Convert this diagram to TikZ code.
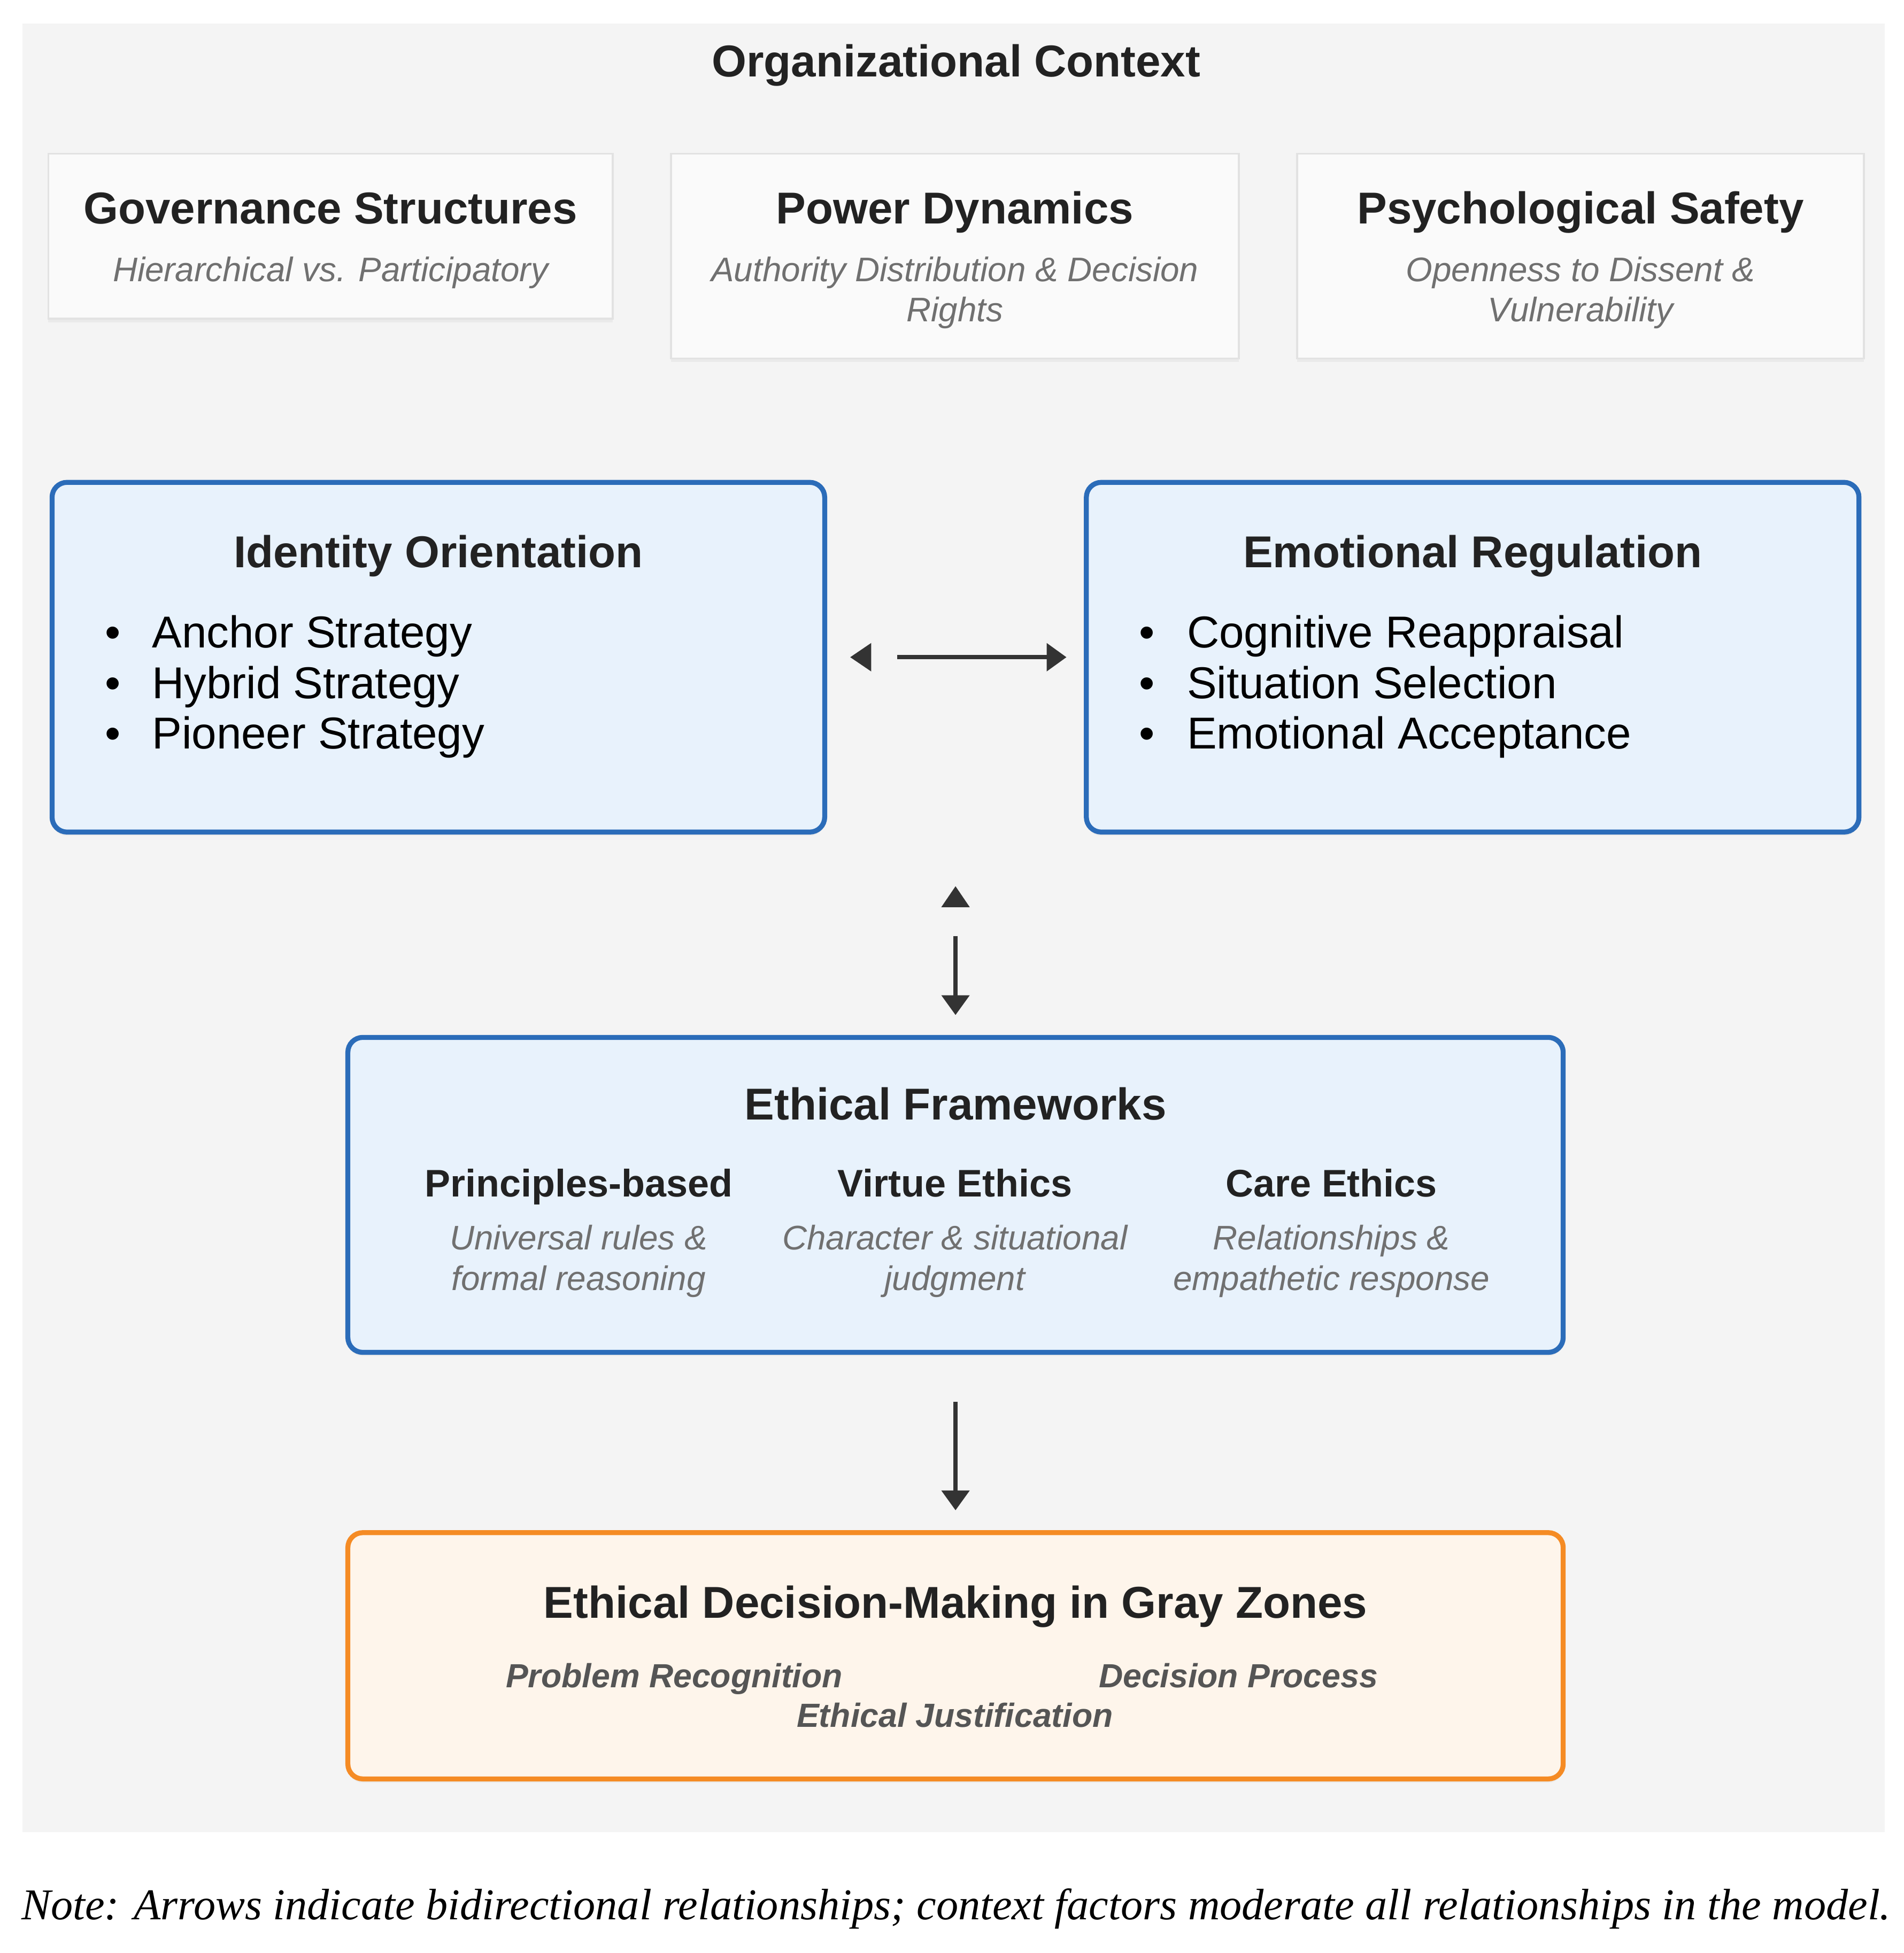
\documentclass[tikz,border=0pt]{standalone}
\usepackage{fontspec}
\setmainfont{Liberation Sans}
\newfontfamily\notefont{Liberation Serif}
\usetikzlibrary{arrows.meta,shadows,positioning}
\definecolor{bggray}{HTML}{F4F4F4}
\definecolor{ctxfill}{HTML}{FAFAFA}
\definecolor{ctxline}{HTML}{E2E2E2}
\definecolor{bluefill}{HTML}{E8F2FC}
\definecolor{blueline}{HTML}{2B6CB9}
\definecolor{orfill}{HTML}{FEF5EB}
\definecolor{orline}{HTML}{F58B24}
\definecolor{headcol}{HTML}{222222}
\definecolor{subcol}{HTML}{707070}
\definecolor{itemcol}{HTML}{555555}
\definecolor{arrcol}{HTML}{333333}

\begin{document}
\begin{tikzpicture}[
    x=1pt, y=-1pt,
    softshadow/.style={drop shadow={shadow xshift=0pt, shadow yshift=-3pt, opacity=0.04, fill=black}},
    ctxbox/.style={draw=ctxline, fill=ctxfill, line width=1.5pt, softshadow},
    bluebox/.style={draw=blueline, fill=bluefill, line width=4pt, rounded corners=12pt, softshadow},
    orbox/.style={draw=orline, fill=orfill, line width=4pt, rounded corners=12pt, softshadow},
    head/.style={font=\fontsize{36pt}{43pt}\selectfont\bfseries, text=headcol, inner sep=0pt, anchor=base},
    colhead/.style={font=\fontsize{31pt}{37pt}\selectfont\bfseries, text=headcol, inner sep=0pt, anchor=base},
    sub/.style={font=\fontsize{27.5pt}{33pt}\selectfont\itshape, text=subcol, inner sep=0pt, anchor=base},
    item/.style={font=\fontsize{36pt}{43pt}\selectfont, text=black, inner sep=0pt, anchor=base west},
    dot/.style={font=\fontsize{36pt}{43pt}\selectfont, text=black, inner sep=0pt, anchor=base},
    stage/.style={font=\fontsize{27pt}{33pt}\selectfont\bfseries\itshape, text=itemcol, inner sep=0pt, anchor=base},
    arrowline/.style={draw=arrcol, line width=3.5pt},
    tipped/.style={arrowline, -{Triangle[width=22pt,length=16pt]}},
    bitipped/.style={arrowline, {Triangle[width=22pt,length=17pt]}-{Triangle[width=22pt,length=16pt]}}
    ]

\useasboundingbox (0,0) rectangle (1535.3,1575);
\fill[white] (0,0) rectangle (1535.3,1575);
\fill[bggray] (18,19) rectangle (1520,1477.5);

% context row
\node[head] (ctxtitle) at (771,62) {Organizational Context};

\node[ctxbox, minimum width=455pt, minimum height=133pt] (gov) at (266.5,190.5) {};
\node[ctxbox, minimum width=458pt, minimum height=165pt] (pow) at (770,206.5) {};
\node[ctxbox, minimum width=457pt, minimum height=165pt] (psy) at (1274.5,206.5) {};

\node[head] (govtitle) at (266.5,180.5) {Governance Structures};
\node[sub] (govsub) at (266.5,227) {Hierarchical vs. Participatory};

\node[head] (powtitle) at (770,180.5) {Power Dynamics};
\node[sub] (powsub) at (770,227) {Authority Distribution \& Decision};
\node[sub] (powsubb) at (770,259.5) {Rights};

\node[head] (psytitle) at (1274.5,180.5) {Psychological Safety};
\node[sub] (psysub) at (1274.5,227) {Openness to Dissent \&};
\node[sub] (psysubb) at (1274.5,259.5) {Vulnerability};

% identity and emotion
\node[bluebox, minimum width=623pt, minimum height=282pt] (ident) at (353.5,530) {};
\node[bluebox, minimum width=623pt, minimum height=282pt] (emot) at (1187.5,530) {};

\node[head] (identtitle) at (353.5,457.5) {Identity Orientation};
\node[dot] (identdota) at (91,522.5) {\textbullet};
\node[dot] (identdotb) at (91,563.5) {\textbullet};
\node[dot] (identdotc) at (91,604) {\textbullet};
\node[item] (anchor) at (122.4,522.5) {Anchor Strategy};
\node[item] (hybrid) at (122.4,563.5) {Hybrid Strategy};
\node[item] (pioneer) at (122.4,604) {Pioneer Strategy};

\node[head] (emottitle) at (1187.5,457.5) {Emotional Regulation};
\node[dot] (emotdota) at (925,522.5) {\textbullet};
\node[dot] (emotdotb) at (925,563.5) {\textbullet};
\node[dot] (emotdotc) at (925,604) {\textbullet};
\node[item] (reapp) at (957,522.5) {Cognitive Reappraisal};
\node[item] (select) at (957,563.5) {Situation Selection};
\node[item] (accept) at (957,604) {Emotional Acceptance};

% frameworks
\node[bluebox, minimum width=980pt, minimum height=254pt] (ef) at (770.5,963.6) {};
\node[head] (eftitle) at (770.5,903) {Ethical Frameworks};

\node[colhead] (princ) at (466.6,965) {Principles-based};
\node[sub] (princa) at (466.6,1007.7) {Universal rules \&};
\node[sub] (princb) at (466.6,1040.7) {formal reasoning};

\node[colhead] (virtue) at (770,965) {Virtue Ethics};
\node[sub] (virtuea) at (770,1007.7) {Character \& situational};
\node[sub] (virtueb) at (770,1040.7) {judgment};

\node[colhead] (care) at (1073.6,965) {Care Ethics};
\node[sub] (carea) at (1073.6,1007.7) {Relationships \&};
\node[sub] (careb) at (1073.6,1040.7) {empathetic response};

% outcome
\node[orbox, minimum width=980pt, minimum height=198.6pt] (dec) at (770.5,1335.3) {};
\node[head] (dectitle) at (770.5,1305) {Ethical Decision-Making in Gray Zones};
\node[stage] (recog) at (543.7,1360.7) {Problem Recognition};
\node[stage] (process) at (998.6,1360.7) {Decision Process};
\node[stage] (justif) at (770,1392.7) {Ethical Justification};

% arrows
\coordinate (rowbottom) at (ef.north |- ident.south);
\draw[bitipped, dash pattern=on 0pt off 22pt on 400pt] ([xshift=18.5pt]ident.east) -- ([xshift=-14pt]emot.west);
\draw[bitipped, dash pattern=on 0pt off 24pt on 400pt] ([yshift=-41.6pt]rowbottom) -- ([yshift=16pt]ef.north);
\draw[tipped] ([yshift=-38pt]ef.south) -- ([yshift=16pt]dec.north);

\node[font=\fontsize{35.5pt}{42pt}\selectfont\notefont\itshape, inner sep=0pt, anchor=base] (note) at (771,1548)
    {Note: Arrows indicate bidirectional relationships; context factors moderate all relationships in the model.};

\end{tikzpicture}
\end{document}
